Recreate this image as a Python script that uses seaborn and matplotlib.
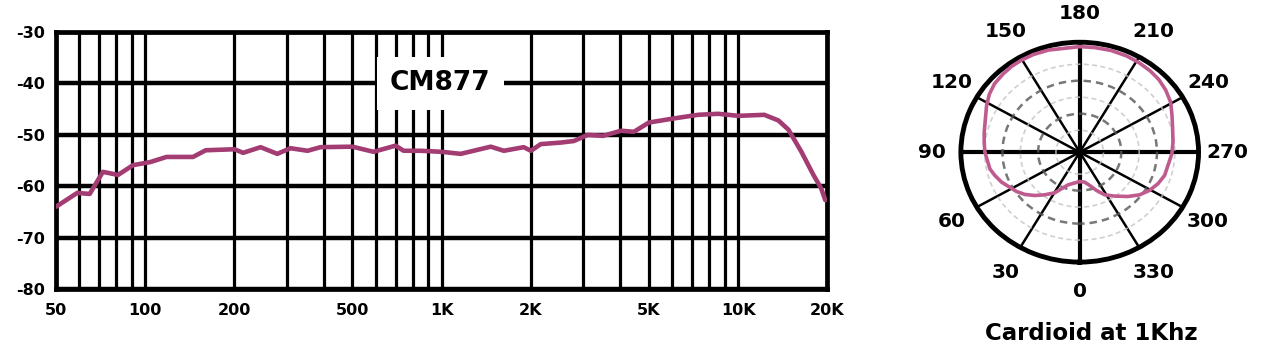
import numpy as np
import pandas as pd
import matplotlib
matplotlib.use("Agg")
import matplotlib.pyplot as plt
import seaborn as sns

# ---------------- data ----------------
freq_hz = [50, 59, 65, 72, 81, 91, 104, 118, 145, 160, 200, 214, 245, 279, 309,
           353, 390, 500, 589, 699, 744, 848, 1000, 1159, 1464, 1620, 1891, 2000,
           2159, 2524, 2791, 3112, 3498, 4026, 4452, 5000, 6076, 7325, 8563,
           10000, 12250, 13670, 14780, 16340, 17940, 19050, 19670]
level_db = [-64.0, -61.3, -61.5, -57.2, -57.8, -55.9, -55.3, -54.3, -54.3, -53.0,
            -52.8, -53.5, -52.4, -53.7, -52.6, -53.1, -52.4, -52.3, -53.3, -52.1,
            -53.1, -53.1, -53.3, -53.7, -52.3, -53.1, -52.4, -53.1, -51.8, -51.5,
            -51.2, -50.0, -50.2, -49.2, -49.4, -47.6, -46.8, -46.1, -45.9, -46.3,
            -46.1, -47.2, -49.0, -53.3, -57.8, -60.4, -62.7]

grid_freqs = [50, 60, 70, 80, 90, 100, 200, 300, 400, 500, 600, 700, 800, 900,
              1000, 2000, 3000, 4000, 5000, 6000, 7000, 8000, 9000, 10000, 20000]
freq_labels = {50: "50", 100: "100", 200: "200", 500: "500", 1000: "1K",
               2000: "2K", 5000: "5K", 10000: "10K", 20000: "20K"}
db_ticks = [-30, -40, -50, -60, -70, -80]
model_name = "CM877"

polar_angle_deg = [0, 18.3, 29.6, 37.2, 43.8, 50.2, 56.1, 67.5, 73.5, 78.6, 90,
                   96.5, 102.8, 118.4, 124.7, 131.1, 137.8, 143.7, 149.5, 156.3,
                   164.3, 180, 187.5, 195.8, 204.2, 211.4, 218.6, 225.2, 232,
                   239.3, 246.8, 254.9, 263.4, 271, 286.5, 293.6, 300.6, 307.6,
                   314.8, 323.7, 331.6, 338, 344.5, 351.3, 360]
polar_level = [0.267, 0.313, 0.425, 0.487, 0.546, 0.601, 0.641, 0.712, 0.745,
               0.771, 0.798, 0.809, 0.824, 0.891, 0.925, 0.950, 0.960, 0.968,
               0.970, 0.970, 0.965, 0.960, 0.960, 0.962, 0.960, 0.955, 0.948,
               0.938, 0.918, 0.890, 0.845, 0.810, 0.790, 0.776, 0.745, 0.718,
               0.683, 0.636, 0.572, 0.496, 0.441, 0.375, 0.314, 0.276, 0.267]
angle_ticks = list(range(0, 360, 30))
ring_levels = [0.2, 0.35, 0.5, 0.65, 0.8]
polar_title = "Cardioid at 1Khz"

# ---------------- style ----------------
sns.set_style("white")
plt.rcParams["font.family"] = ["DejaVu Sans"]
plt.rcParams["font.weight"] = "bold"
for key in ["text.color", "axes.labelcolor", "xtick.color", "ytick.color"]:
    plt.rcParams[key] = "black"

fig = plt.figure(figsize=(12.71, 3.49), dpi=100)

# ---------------- frequency response ----------------
ax = fig.add_axes([0.044, 0.172, 0.607, 0.736])
ax.set_xscale("log")
df = pd.DataFrame({"freq": freq_hz, "db": level_db})
sns.lineplot(data=df, x="freq", y="db", ax=ax, color="#a33c73", linewidth=3.3,
             zorder=5)
ax.set_xlim(50, 20000)
ax.set_ylim(-80, -30)
ax.set_xticks(grid_freqs)
ax.set_xticklabels([freq_labels.get(f, "") for f in grid_freqs])
ax.xaxis.set_minor_locator(matplotlib.ticker.NullLocator())
ax.set_yticks(db_ticks)
ax.set_yticklabels([str(v) for v in db_ticks])
ax.grid(True, axis="x", color="black", linewidth=2.3, zorder=1)
ax.grid(True, axis="y", color="black", linewidth=3.2, zorder=1)
ax.set_axisbelow(True)
for s in ax.spines.values():
    s.set_color("black")
    s.set_linewidth(3.4)
    s.set_visible(True)
ax.tick_params(axis="both", length=0, labelsize=11.5, labelcolor="black")
ax.tick_params(axis="x", pad=10)
ax.tick_params(axis="y", pad=8)
for lab in ax.get_xticklabels() + ax.get_yticklabels():
    lab.set_fontweight("bold")
ax.set_xlabel("")
ax.set_ylabel("")
ax.text(990, -40, model_name, fontsize=19, fontweight="bold", ha="center",
        va="center", zorder=4, color="black",
        bbox=dict(boxstyle="square,pad=0.5", facecolor="white", edgecolor="none"))

# ---------------- polar pattern ----------------
axp = fig.add_axes([0.756, 0.249, 0.187, 0.630], projection="polar")
axp.set_aspect("auto")
axp.set_theta_zero_location("S")
axp.set_theta_direction(-1)
sns.lineplot(x=np.deg2rad(polar_angle_deg), y=polar_level, ax=axp, sort=False,
             color="#bf5b8e", linewidth=2.6, zorder=5)
axp.set_ylim(0, 1)
axp.set_thetagrids(angle_ticks, [str(a) for a in angle_ticks])
axp.set_rgrids(ring_levels, [""] * len(ring_levels))
axp.grid(True)
for i, gl in enumerate(axp.xaxis.get_gridlines()):
    gl.set_color("black")
    gl.set_linestyle("-")
    gl.set_linewidth(3.0 if angle_ticks[i] % 90 == 0 else 1.8)
    gl.set_zorder(3)
for i, gl in enumerate(axp.yaxis.get_gridlines()):
    gl.set_linestyle((0, (3, 2)))
    gl.set_color("#555555" if i % 2 == 1 else "#c4c4c4")
    gl.set_linewidth(1.8 if i % 2 == 1 else 1.2)
    gl.set_alpha(0.8)
axp.spines["polar"].set_linewidth(3.5)
axp.spines["polar"].set_color("black")
axp.tick_params(axis="x", labelsize=14.5, pad=14, length=0, labelcolor="black")
for lab in axp.get_xticklabels():
    lab.set_fontweight("bold")
axp.set_xlabel("")
axp.set_ylabel("")

fig.text(0.859, 0.043, polar_title, fontsize=16.5, fontweight="bold",
         ha="center", va="center", color="black")

fig.savefig("out.png", dpi=100, facecolor="white")
